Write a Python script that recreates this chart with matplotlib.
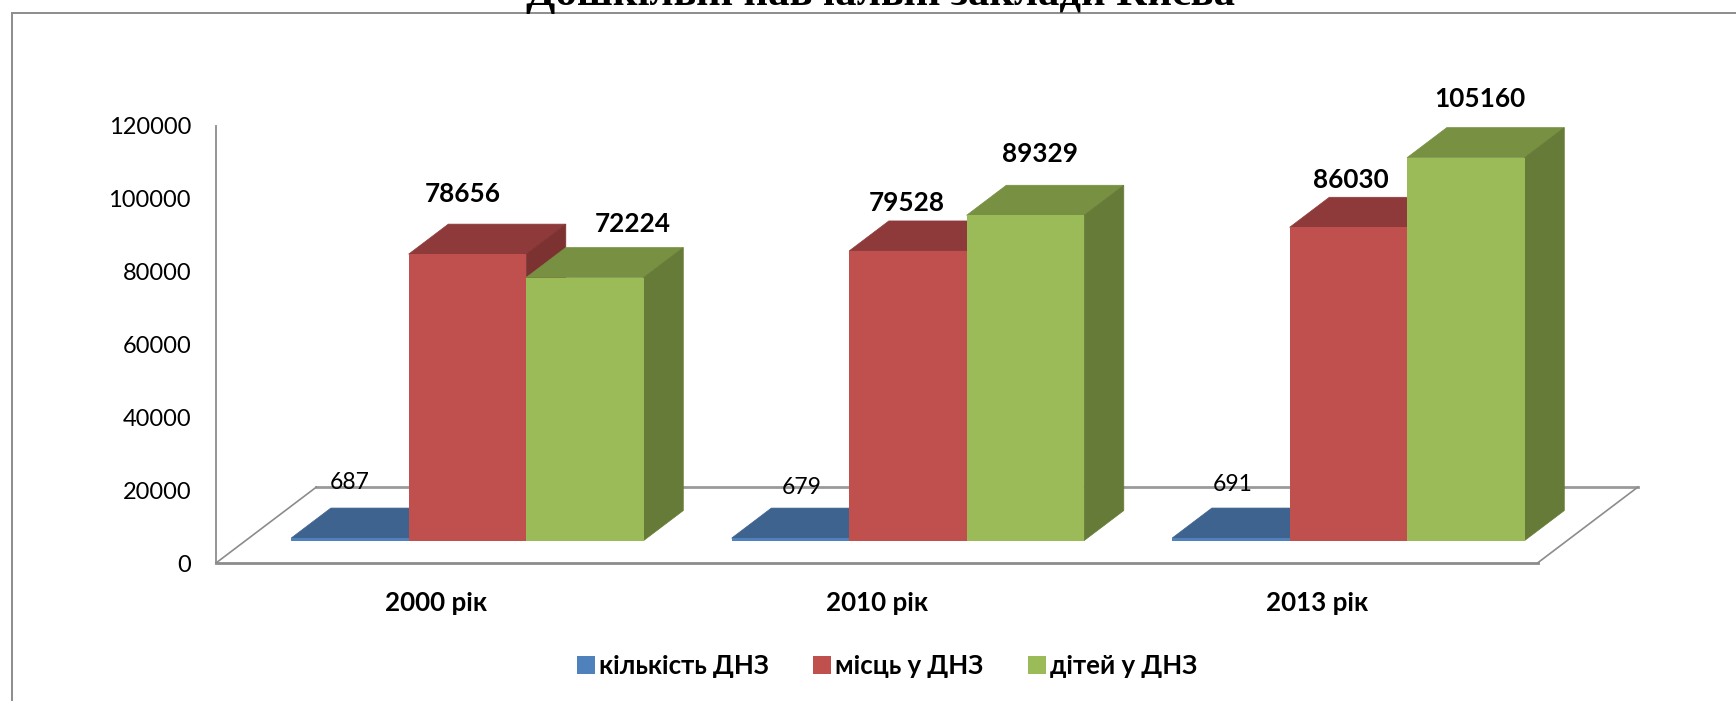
import matplotlib
matplotlib.use("Agg")
import matplotlib.pyplot as plt
from matplotlib.lines import Line2D
from matplotlib.patches import Patch

plt.rcParams["font.family"] = ["Lato", "Noto Sans", "DejaVu Sans"]

#---------------------------
# Data
#---------------------------

title = "Дошкільні навчальні заклади Києва"
years = ["2000 рік", "2010 рік", "2013 рік"]
series_names = ["кількість ДНЗ", "місць у ДНЗ", "дітей у ДНЗ"]
kindergartens = [687, 679, 691]
places = [78656, 79528, 86030]
children = [72224, 89329, 105160]
y_ticks = [0, 20000, 40000, 60000, 80000, 100000, 120000]

#---------------------------
# Style
#---------------------------

W, H = 1736, 701
colors_front = ["#4F81BD", "#C0504D", "#9BBB59"]
colors_top = ["#3E638F", "#8F3A3A", "#789042"]
colors_side = ["#355579", "#7D3232", "#667B37"]
grey = "#8C8C8C"

bar_w = 0.2667
floor_dx = 100.5 / (1322 / 3)   # depth of the floor, category units
floor_dy = 76 / 437 * 120000    # depth of the floor, value units
z_front = 0.295
z_back = 0.69
bar_shift = 1.5 / (1322 / 3)    # bars sit a little right of the category centre

# label nudges in pixels, from the top centre of the front face
nudges = [
    [(0, 56), (11, 51), (2, 54)],
    [(-5, 60), (-1, 48), (2, 47)],
    [(48, 54), (15, 61), (14, 59)],
]

fig = plt.figure(figsize=(W / 100, H / 100), dpi=100)
ax = fig.add_axes([216 / W, (H - 563) / H, 1321.5 / W, 437 / H])
ax.set_xlim(-0.5, 2.5)
ax.set_ylim(0, 120000)

# frame of the chart area, cut by the page on the right and at the bottom
fig.add_artist(Line2D([12 / W, 12 / W], [0, 1 - 12.7 / H], color=grey, lw=1.4))
fig.add_artist(Line2D([12 / W, 1], [1 - 12.7 / H, 1 - 12.7 / H], color=grey, lw=1.4))

# the title runs off the top of the page in the original too
fig.text(881 / W, 1 - 5 / H, title, family=["Liberation Serif"], weight="bold",
         fontsize=30.8, ha="center", va="baseline", color="black")

# floor
ax.plot([-0.5 + floor_dx, 2.5 + floor_dx], [floor_dy, floor_dy], color="#9A9A9A", lw=2,
        clip_on=False, zorder=1)
ax.plot([-0.5, -0.5 + floor_dx], [0, floor_dy], color=grey, lw=1.2, clip_on=False, zorder=1)
ax.plot([2.5, 2.5 + floor_dx], [0, floor_dy], color=grey, lw=1.2, clip_on=False, zorder=1)

for s in ["top", "right"]:
    ax.spines[s].set_visible(False)
ax.spines["left"].set_color(grey)
ax.spines["left"].set_linewidth(1.3)
ax.spines["bottom"].set_color(grey)
ax.spines["bottom"].set_linewidth(2)

# bars, back to front and left to right
all_values = [kindergartens, places, children]
x0, y0 = z_front * floor_dx + bar_shift, z_front * floor_dy
x1, y1 = z_back * floor_dx + bar_shift, z_back * floor_dy

for g in range(len(years)):
    for k, values in enumerate(all_values):
        v = values[g]
        left = g + (k - 1.5) * bar_w
        right = left + bar_w
        z = 3 + k
        # thin edge on the faces, else the bar behind shows through the seams
        ax.fill([left + x0, right + x0, right + x1, left + x1],
                [v + y0, v + y0, v + y1, v + y1],
                facecolor=colors_top[k], edgecolor=colors_top[k], lw=0.5, zorder=z, clip_on=False)
        ax.fill([right + x0, right + x1, right + x1, right + x0],
                [y0, y1, v + y1, v + y0],
                facecolor=colors_side[k], edgecolor=colors_side[k], lw=0.5, zorder=z, clip_on=False)
        ax.bar(left + x0, v, bar_w, bottom=y0, align="edge", color=colors_front[k],
               lw=0, zorder=z, clip_on=False)
        ax.annotate(str(v), (left + x0 + bar_w / 2, v + y0), xytext=nudges[k][g],
                    textcoords="offset pixels", ha="center", va="center",
                    fontsize=16.5 if k == 0 else 18.8, weight="normal" if k == 0 else "bold",
                    zorder=10, annotation_clip=False)

ax.set_yticks(y_ticks)
ax.set_yticklabels([str(t) for t in y_ticks], fontsize=17)
ax.set_xticks(range(len(years)))
ax.set_xticklabels(years, fontsize=18.7, weight="bold")
ax.tick_params(axis="y", length=0, pad=18)
ax.tick_params(axis="x", length=0, pad=20)

handles = [Patch(color=c, lw=0) for c in colors_front]
fig.legend(handles, series_names, loc="center", bbox_to_anchor=(887 / W, 1 - 666 / H), ncol=3,
           frameon=False, handlelength=0.7, handleheight=0.7, handletextpad=0.17,
           columnspacing=1.7, prop={"size": 18.6, "weight": "bold"})

fig.savefig("out.png", dpi=100)
